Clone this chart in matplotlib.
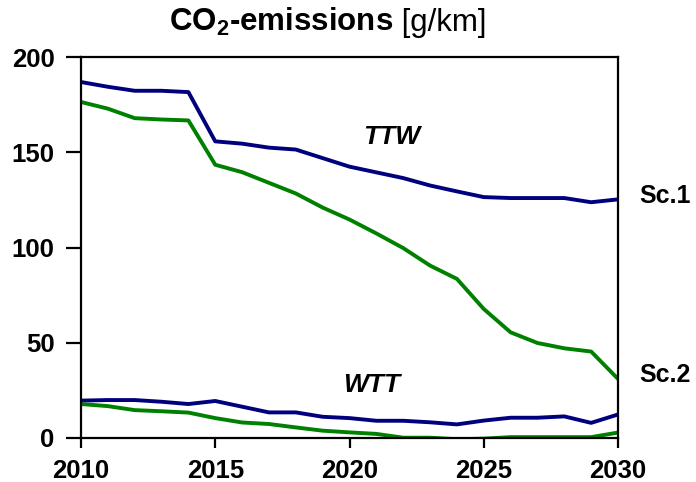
import numpy as np
import matplotlib
matplotlib.use("Agg")
import matplotlib.pyplot as plt

plt.rcParams['font.family'] = ['Liberation Sans', 'DejaVu Sans']
plt.rcParams['mathtext.fontset'] = 'custom'
plt.rcParams['mathtext.bf'] = 'Liberation Sans:bold'
plt.rcParams['mathtext.rm'] = 'Liberation Sans'

years = np.arange(2010, 2031)
sc1_ttw = [187, 184.5, 182.4, 182.4, 181.7, 155.8, 154.6, 152.5, 151.5, 147, 142.5,
           139.5, 136.5, 132.6, 129.5, 126.5, 126, 126, 126, 123.8, 125.3]
sc2_ttw = [176.5, 173, 168, 167.3, 166.8, 143.5, 139.6, 134, 128.4, 121, 114.7,
           107.4, 99.7, 90.5, 83.5, 67.7, 55.4, 49.8, 47, 45.3, 30.9]
sc1_wtt = [19.5, 19.8, 19.8, 18.9, 17.7, 19.3, 16.3, 13.3, 13.3, 11, 10.3,
           8.9, 8.9, 8.1, 7.0, 9.0, 10.5, 10.5, 11.2, 7.8, 12.2]
sc2_wtt = [17.7, 16.6, 14.5, 13.9, 13.2, 10.3, 8, 7.2, 5.4, 3.7, 2.8,
           2.0, 0, 0, -0.8, -0.5, 0.3, 0.3, 0.3, 0.3, 2.7]

blue = '#00007f'
green = '#008000'

fig = plt.figure(figsize=(6.96, 4.82), dpi=100)
ax = fig.add_axes([81/696, 1-437.7/482, (618-81)/696, (437.7-57.3)/482])

lw = 2.8
ax.plot(years, sc1_ttw, color=blue, lw=lw)
ax.plot(years, sc2_ttw, color=green, lw=lw)
ax.plot(years, sc1_wtt, color=blue, lw=lw)
ax.plot(years, sc2_wtt, color=green, lw=lw)

ax.set_xlim(2010, 2030)
ax.set_ylim(0, 200)
ax.set_xticks([2010, 2015, 2020, 2025, 2030])
ax.set_yticks([0, 50, 100, 150, 200])
for s in ax.spines.values():
    s.set_linewidth(1.6)
ax.tick_params(axis='y', direction='out', length=11, width=1.6, pad=8, labelsize=18.5)
ax.tick_params(axis='x', direction='out', length=7, width=1.6, pad=8, labelsize=18.5)
for lab in ax.get_xticklabels() + ax.get_yticklabels():
    lab.set_fontweight('bold')

ax.text(2021.56, 158, 'TTW', fontsize=19, fontweight='bold', style='italic',
        ha='center', va='center')
ax.text(2020.82, 27.7, 'WTT', fontsize=19, fontweight='bold', style='italic',
        ha='center', va='center')
ax.text(2030.8, 127, 'Sc.1', fontsize=18, fontweight='bold', ha='left',
        va='center', clip_on=False)
ax.text(2030.8, 33, 'Sc.2', fontsize=18, fontweight='bold', ha='left',
        va='center', clip_on=False)

# title: bold part + regular unit
ty = 1 - 31/482
t1 = fig.text(0, ty, r'$\mathbf{CO_2}$-emissions', fontsize=22.5, fontweight='bold',
              ha='left', va='baseline')
t2 = fig.text(0, ty, ' [g/km]', fontsize=22.5, ha='left', va='baseline')
r = fig.canvas.get_renderer()
w1 = t1.get_window_extent(r).width / 696
w2 = t2.get_window_extent(r).width / 696
x0 = 327.5/696 - (w1 + w2) / 2
t1.set_x(x0)
t2.set_x(x0 + w1)

fig.savefig('out.png', dpi=100)
